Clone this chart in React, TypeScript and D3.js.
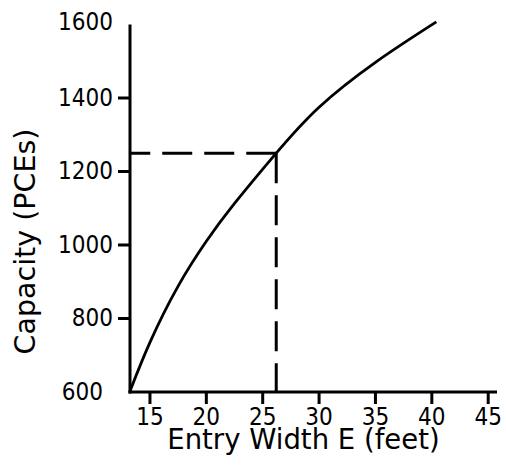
import React from "react";
import * as d3 from "d3";

const widths = [13.2, 15, 17.5, 20, 22.5, 26.2, 30, 35, 40.4];
const capacities = [600, 735, 888, 1010, 1113, 1250, 1375, 1497, 1607];
const xTicks = [15, 20, 25, 30, 35, 40, 45];
const yTicks = [800, 1000, 1200, 1400];
const yEndLabels = [600, 1600];
const markerWidth = 26.2;
const markerCapacity = 1250;

const W = 506;
const H = 465;
const FONT_C = "'DejaVu Sans Condensed', 'DejaVu Sans', sans-serif";
const FONT = "'DejaVu Sans', sans-serif";

export default function App() {
  const x = d3.scaleLinear().domain([13.23, 45.78]).range([130, 497]);
  const y = d3.scaleLinear().domain([600, 1600]).range([392, 24.5]);
  const pts: [number, number][] = widths.map((w, i) => [x(w), y(capacities[i])]);
  const line = d3.line().curve(d3.curveNatural)(pts) || "";
  const x0 = x.range()[0];
  const y0 = y.range()[0];
  const mx = x(markerWidth);
  const my = y(markerCapacity);

  return (
    <svg width={W} height={H} style={{ position: "absolute", left: 0, top: 0, background: "#fff" }}>
      <line x1={x0} y1={y.range()[1]} x2={x0} y2={y0 + 1.5} stroke="#000" strokeWidth={3} />
      <line x1={x0 - 1.5} y1={y0} x2={x.range()[1]} y2={y0} stroke="#000" strokeWidth={3} />
      {xTicks.map((t) => (
        <g key={t}>
          <line x1={x(t)} x2={x(t)} y1={y0} y2={y0 + 12} stroke="#000" strokeWidth={3} />
          <text x={x(t)} y={425} textAnchor="middle" fontFamily={FONT_C} fontStretch="condensed" fontSize={24} fill="#000">
            {t}
          </text>
        </g>
      ))}
      {yTicks.map((t) => (
        <g key={t}>
          <line x1={x0 - 12} x2={x0} y1={y(t)} y2={y(t)} stroke="#000" strokeWidth={3} />
          <text x={113} y={y(t) + 7.5} textAnchor="end" fontFamily={FONT_C} fontStretch="condensed" fontSize={24} fill="#000">
            {t}
          </text>
        </g>
      ))}
      {yEndLabels.map((t, i) => (
        <text key={t} x={i === 0 ? 103 : 113} y={y(t) + (i === 0 ? 8 : 5)} textAnchor="end" fontFamily={FONT_C} fontStretch="condensed" fontSize={24} fill="#000">
          {t}
        </text>
      ))}
      <path d={line} fill="none" stroke="#000" strokeWidth={2.8} />
      <line x1={mx} y1={my} x2={x0} y2={my} stroke="#000" strokeWidth={3} strokeDasharray="30,12" />
      <line x1={mx} y1={my} x2={mx} y2={y0} stroke="#000" strokeWidth={3} strokeDasharray="30,12" />
      <text x={303.5} y={448.5} textAnchor="middle" fontFamily={FONT} fontSize={27.5} fill="#000">
        Entry Width E (feet)
      </text>
      <text transform={`translate(35,241.5) rotate(-90)`} textAnchor="middle" fontFamily={FONT} fontSize={28.5} fill="#000">
        Capacity (PCEs)
      </text>
    </svg>
  );
}
